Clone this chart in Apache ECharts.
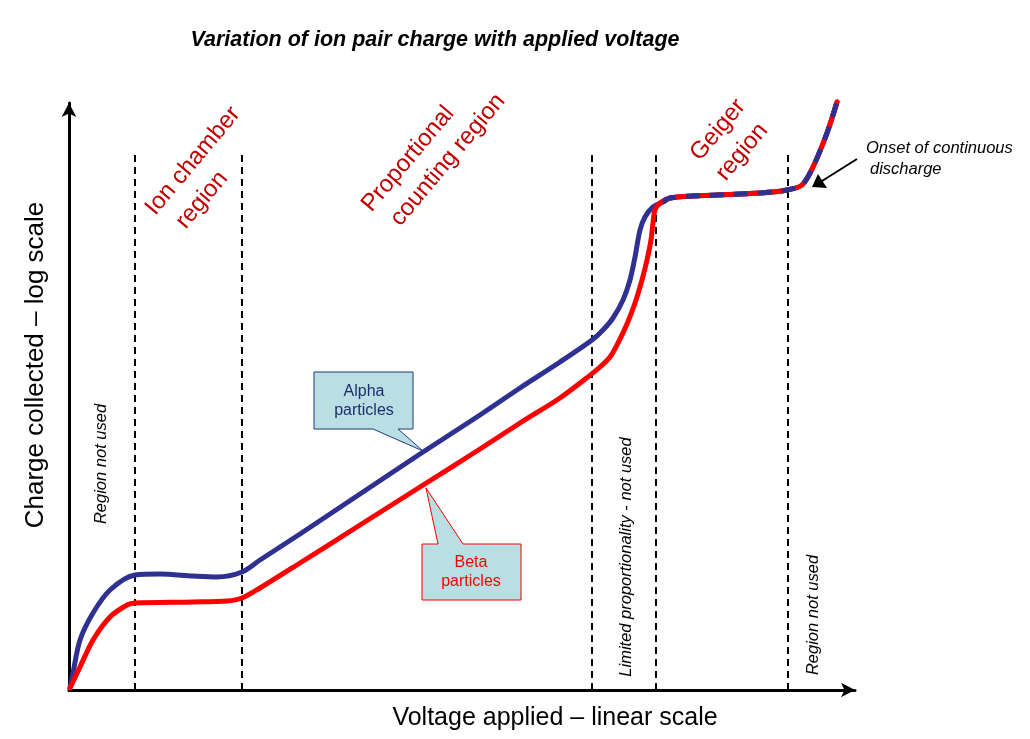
<!DOCTYPE html>
<html>
<head>
<meta charset="utf-8">
<script src="https://cdn.jsdelivr.net/npm/echarts@6/dist/echarts.min.js"></script>
<style>html,body{margin:0;padding:0;background:#fff}#c{width:1030px;height:739px}</style>
</head>
<body>
<div id="c"></div>
<script>
// Values (x: voltage units, y: charge units)
var alphaX = [1, 4, 11, 24, 41, 66, 91, 124, 148, 173, 191, 231, 291, 351, 411, 451, 491, 523, 534, 544, 554, 561, 566, 571, 576, 584, 594];
var alphaY = [2, 17, 50, 77, 100, 115, 116, 114, 113, 118, 130, 156, 196, 236, 275, 302, 328, 350, 360, 372, 390, 410, 433, 460, 473, 483, 488];
var betaX  = [1, 11, 24, 41, 58, 66, 124, 158, 173, 191, 231, 291, 351, 411, 451, 491, 515, 531, 541, 549, 558, 566, 573, 578, 582, 584, 586, 591];
var betaY  = [2, 23, 50, 73, 85, 87, 88, 89, 92, 102, 127, 165, 203, 241, 267, 292, 310, 323, 333, 347, 366, 387, 410, 430, 450, 467, 480, 487];
var tailX  = [601, 624, 691, 718, 733, 744, 758, 768];
var tailY  = [492, 494, 497, 500, 505, 523, 557, 588];
var boundaries = [66, 173, 523, 587, 719];
var boundaryTop = 535;
var xMax = 786, yMax = 587;

function pts(xs, ys) { return xs.map(function (x, i) { return [x, ys[i]]; }); }
var alphaData = pts(alphaX.concat(tailX), alphaY.concat(tailY));
var betaData = pts(betaX.concat(tailX), betaY.concat(tailY));
var tailData = pts([alphaX[alphaX.length - 1]].concat(tailX), [alphaY[alphaY.length - 1]].concat(tailY));

var FONT = 'Liberation Sans, Arial, sans-serif';
var NAVY = '#2e3192', RED = '#ff0000', DARKRED = '#c00000';

var series = [];
boundaries.forEach(function (b) {
  series.push({
    type: 'line', data: [[b, 0], [b, boundaryTop]], symbol: 'none', silent: true,
    lineStyle: { color: '#000', width: 2, type: [7, 5] }, z: 1
  });
});
series.push({ type: 'line', name: 'Alpha', data: alphaData, smooth: 0.3, symbol: 'none', clip: false,
  lineStyle: { color: NAVY, width: 5, cap: 'round', join: 'round' }, z: 3 });
series.push({ type: 'line', name: 'Beta', data: betaData, smooth: 0.3, symbol: 'none', clip: false,
  lineStyle: { color: RED, width: 5, cap: 'round', join: 'round' }, z: 4 });
series.push({ type: 'line', name: 'Shared', data: tailData, smooth: 0.3, symbol: 'none', clip: false,
  lineStyle: { color: NAVY, width: 5, type: [14, 10] }, z: 5 });

var R90 = Math.PI / 2, R50 = 50 * Math.PI / 180;
function txt(x, y, s, o) {
  return { type: 'text', x: x, y: y, rotation: o.rotation || 0, z: 11,
    style: { text: s, fill: o.fill || '#000', font: o.font, align: o.align || 'center', verticalAlign: 'middle', lineHeight: o.lh } };
}
var RF = '24px ' + FONT;

var graphic = [
  txt(435, 40, 'Variation of ion pair charge with applied voltage', { font: 'italic bold 21.5px ' + FONT }),
  txt(36, 365, 'Charge collected \u2013 log scale', { font: '26px ' + FONT, rotation: R90 }),
  txt(555, 718, 'Voltage applied \u2013 linear scale', { font: '25px ' + FONT }),
  txt(193, 161, 'Ion chamber', { font: RF, fill: DARKRED, rotation: R50 }),
  txt(202, 200, 'region', { font: RF, fill: DARKRED, rotation: R50 }),
  txt(408, 159, 'Proportional', { font: RF, fill: DARKRED, rotation: R50 }),
  txt(448, 160, 'counting region', { font: RF, fill: DARKRED, rotation: R50 }),
  txt(718, 130, 'Geiger', { font: RF, fill: DARKRED, rotation: R50 }),
  txt(742, 152, 'region', { font: RF, fill: DARKRED, rotation: R50 }),
  txt(101, 464, 'Region not used', { font: 'italic 16.5px ' + FONT, rotation: R90 }),
  txt(626, 557, 'Limited proportionality - not used', { font: 'italic 16.5px ' + FONT, rotation: R90 }),
  txt(813, 615, 'Region not used', { font: 'italic 16.5px ' + FONT, rotation: R90 }),
  txt(866, 148, 'Onset of continuous', { font: 'italic 16.5px ' + FONT, align: 'left' }),
  txt(870, 169, 'discharge', { font: 'italic 16.5px ' + FONT, align: 'left' }),
  { type: 'line', shape: { x1: 857, y1: 159, x2: 822, y2: 181 }, style: { stroke: '#000', lineWidth: 2 } },
  { type: 'polygon', shape: { points: [[812, 187], [818, 174], [827, 188]] }, style: { fill: '#000' } },
  { type: 'polygon', shape: { points: [[314, 372], [413, 372], [413, 429], [398, 429], [423, 451], [373, 429], [314, 429]] },
    style: { fill: '#b9dee4', stroke: '#1f3a7a', lineWidth: 1 }, z: 10 },
  txt(364, 401, 'Alpha\nparticles', { font: '16px ' + FONT, fill: '#1f2d6e', lh: 19 }),
  { type: 'polygon', shape: { points: [[422, 544], [438, 544], [426, 488], [463, 544], [521, 544], [521, 600], [422, 600]] },
    style: { fill: '#b9dee4', stroke: '#ff0000', lineWidth: 1 }, z: 10 },
  txt(471, 572, 'Beta\nparticles', { font: '16px ' + FONT, fill: '#ff0000', lh: 19 })
];

var chart = echarts.init(document.getElementById('c'), null, { renderer: 'canvas' });
chart.setOption({
  animation: false,
  backgroundColor: '#fff',
  grid: { left: 69, top: 103, width: xMax, height: yMax, containLabel: false },
  xAxis: { type: 'value', min: 0, max: xMax, splitLine: { show: false }, axisTick: { show: false }, axisLabel: { show: false },
    axisLine: { onZero: false, lineStyle: { color: '#000', width: 3 }, symbol: ['none', 'arrow'], symbolSize: [11, 14] } },
  yAxis: { type: 'value', min: 0, max: yMax, splitLine: { show: false }, axisTick: { show: false }, axisLabel: { show: false },
    axisLine: { onZero: false, lineStyle: { color: '#000', width: 3 }, symbol: ['none', 'arrow'], symbolSize: [11, 14] } },
  series: series,
  graphic: graphic
});
</script>
</body>
</html>
